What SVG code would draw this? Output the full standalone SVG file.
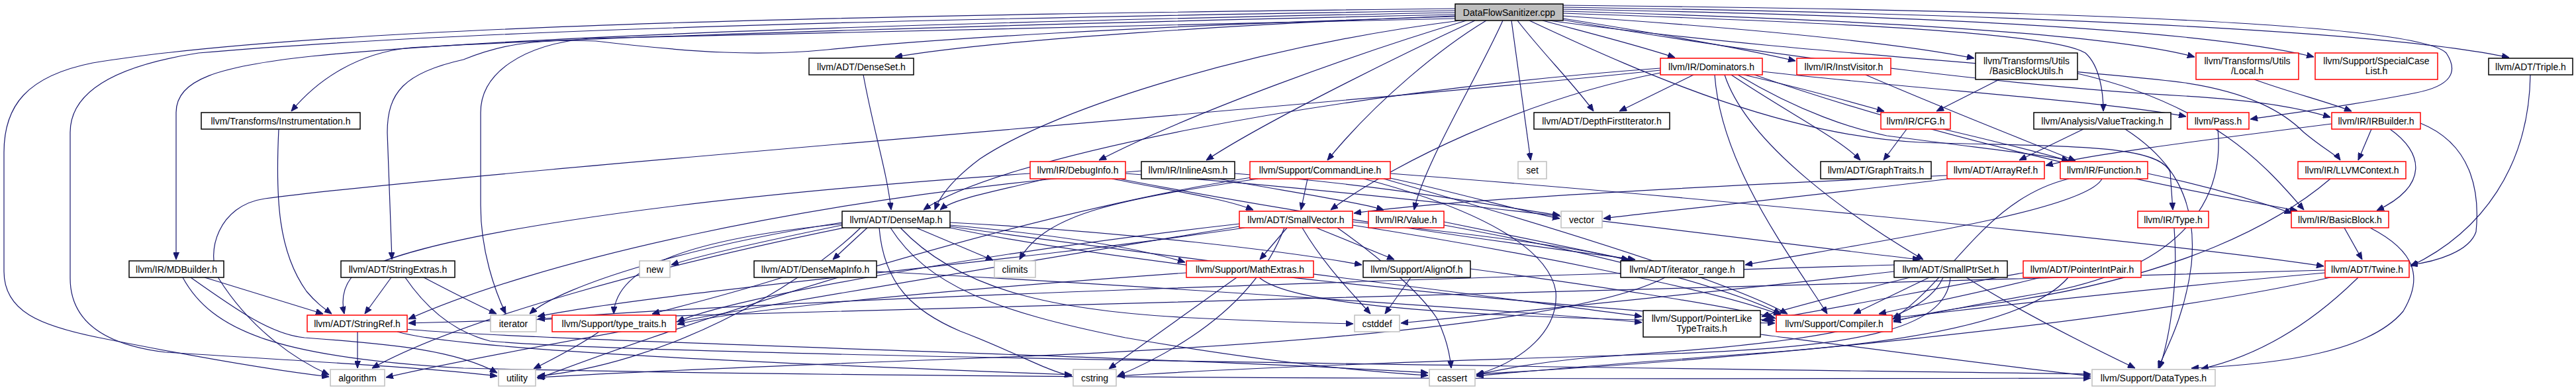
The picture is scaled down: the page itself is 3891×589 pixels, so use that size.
<svg xmlns="http://www.w3.org/2000/svg" width="3891" height="589" viewBox="0 0 3891 589">
<style>
.e path{fill:none;stroke:#191970;stroke-width:1.2;marker-end:url(#a)}
.node rect{fill:#fff;stroke:#000;stroke-width:1.5}
.red rect{stroke:#f00}
.gray rect{stroke:#bfbfbf}
.root rect{fill:#bfbfbf}
text{font-family:"Liberation Sans",Arial,sans-serif;font-size:14px;text-anchor:middle;fill:#000}
</style>
<defs>
<marker id="a" markerWidth="11" markerHeight="9" refX="11" refY="4.5" orient="auto" markerUnits="userSpaceOnUse"><path d="M0,0 L11,4.5 L0,9 z" fill="#191970" stroke="#191970"/></marker>
</defs>
<rect width="3891" height="589" fill="#fff"/>
<g id="edges" class="e">
<path d="M2198,13 C1400,22 500,35 140,95 C40,115 6,160 6,230 L6,410 C6,470 60,492 150,510 C300,540 420,560 497,569"/>
<path d="M2198,16 C1400,28 700,45 300,80 C170,100 106,140 106,200 L106,420 C106,480 150,520 250,532 C450,545 650,555 751,568"/>
<path d="M2198,19 C1500,32 800,52 470,85 C330,100 266,120 266,170 L266,392"/>
<path d="M2198,22 C1600,35 900,55 620,72 C540,80 480,120 440,168"/>
<path d="M2198,25 C1700,40 1400,60 1250,75 C1150,85 1050,80 900,62 C800,58 750,70 700,90 C610,110 585,140 585,200 L592,392"/>
<path d="M2198,28 C1700,40 1100,50 890,58 C790,67 726,110 726,170 L726,310 C726,380 748,440 764,474"/>
<path d="M2198,24 C1900,35 1500,60 1352,86"/>
<path d="M2205,31 C1900,70 1600,160 1480,240 C1440,270 1420,295 1412,317"/>
<path d="M2215,31 C2050,80 1800,170 1660,242"/>
<path d="M2228,31 C2100,90 1900,190 1822,242"/>
<path d="M2245,31 C2180,70 2080,150 2005,242"/>
<path d="M2270,31 C2230,120 2150,250 2136,317"/>
<path d="M2283,31 L2312,242"/>
<path d="M2292,31 C2330,80 2380,130 2407,168"/>
<path d="M2330,31 C2420,55 2480,70 2530,87"/>
<path d="M2361,28 C2500,50 2640,75 2712,92"/>
<path d="M2361,24 C2600,40 2850,62 2982,88"/>
<path d="M2361,20 C2800,35 3100,50 3150,80 C3172,100 3177,140 3177,168"/>
<path d="M2361,17 C2900,32 3200,55 3315,86"/>
<path d="M2361,14 C3000,25 3350,50 3495,86"/>
<path d="M2361,11 C3000,20 3600,45 3790,87"/>
<path d="M2361,30 C2700,90 3100,135 3300,145 C3420,152 3480,165 3520,177"/>
<path d="M2361,8 C3100,15 3650,35 3695,80 C3715,110 3700,130 3650,140 C3550,160 3450,172 3399,180"/>
<path d="M2340,31 C2700,80 3100,100 3300,125 C3400,140 3450,170 3480,200 C3510,225 3530,235 3535,242"/>
<path d="M2310,31 C2500,120 2700,205 2900,215 C3100,222 3260,215 3278,260 L3282,317"/>
<path d="M421,195 C416,300 420,380 463,440 C478,458 490,466 501,474"/>
<path d="M309,419 L488,474"/>
<path d="M276,419 C320,500 420,540 700,556 C1500,575 2800,572 3158,571"/>
<path d="M288,419 C360,470 410,505 460,510 C600,520 690,530 751,563"/>
<path d="M591,419 L551,474"/>
<path d="M640,419 C680,440 720,460 750,474"/>
<path d="M612,419 C640,460 680,500 740,515 C1000,540 2700,558 3158,565"/>
<path d="M540,501 L540,556"/>
<path d="M600,501 C700,530 1200,550 1619,566"/>
<path d="M612,497 C800,515 1800,540 2157,563"/>
<path d="M905,501 C870,525 830,545 806,557"/>
<path d="M1182,419 C1100,445 1030,462 985,474"/>
<path d="M1324,410 C1700,430 2300,470 2480,487"/>
<path d="M1310,344 L1258,392"/>
<path d="M1272,340 C1150,365 1060,385 1014,400"/>
<path d="M1272,336 C1050,370 850,430 800,474"/>
<path d="M1275,344 C1000,400 700,480 562,556"/>
<path d="M1300,344 C1200,440 1000,550 812,568"/>
<path d="M1272,338 C1050,360 930,400 927,474"/>
<path d="M1384,344 L1500,393"/>
<path d="M1435,340 C1600,355 1720,375 1790,396"/>
<path d="M1328,344 C1335,430 1380,470 1450,500 C1530,530 1580,560 1619,568"/>
<path d="M1345,344 C1400,430 1500,470 1700,510 C1900,545 2050,560 2157,567"/>
<path d="M1360,344 C1450,440 1600,470 1800,480 C1900,485 2000,488 2044,489"/>
<path d="M1435,336 C1700,350 1950,380 2057,400"/>
<path d="M1435,344 C1700,400 2300,460 2681,484"/>
<path d="M1435,342 C1700,380 2200,440 2480,478"/>
<path d="M1304,113 C1320,200 1340,260 1346,317"/>
<path d="M1975,270 L1965,317"/>
<path d="M2100,262 C2600,300 3300,370 3510,402"/>
<path d="M2090,270 C2300,330 2600,420 2700,474"/>
<path d="M2060,270 C2250,320 2340,380 2350,440 C2355,500 2300,545 2230,566"/>
<path d="M1900,270 C1700,300 1580,320 1540,392"/>
<path d="M1890,268 C1500,330 1000,500 812,572"/>
<path d="M2095,268 C2200,290 2300,320 2356,330"/>
<path d="M1580,270 C1500,290 1440,300 1420,317"/>
<path d="M1680,270 C1780,290 1850,300 1893,317"/>
<path d="M1700,262 C2200,300 2700,370 2900,392"/>
<path d="M1556,262 C1000,300 600,360 530,420 C515,440 517,460 520,474"/>
<path d="M1690,270 C2000,330 2300,370 2470,392"/>
<path d="M1724,258 C1200,300 800,400 617,482"/>
<path d="M1840,270 C1950,290 2050,305 2090,317"/>
<path d="M1865,262 C2100,280 2250,310 2356,325"/>
<path d="M2508,103 C2000,140 1500,240 1395,317"/>
<path d="M2558,113 L2446,168"/>
<path d="M2615,113 C2700,170 2780,210 2810,242"/>
<path d="M2634,113 C2730,135 2800,155 2846,168"/>
<path d="M2625,113 C2720,170 2800,195 2850,205 C3000,225 3100,235 3125,243"/>
<path d="M2662,108 C2900,135 3200,155 3302,176"/>
<path d="M2605,113 C2640,220 2800,330 2905,392"/>
<path d="M2508,110 C2300,150 2100,250 2010,317"/>
<path d="M2590,113 C2600,250 2700,380 2760,474"/>
<path d="M2650,113 C2900,200 3200,270 3470,318"/>
<path d="M2508,106 C2000,160 700,260 400,300 C330,310 310,380 330,420 C380,500 450,545 497,566"/>
<path d="M2880,195 L2845,242"/>
<path d="M2935,195 C3020,215 3080,230 3125,243"/>
<path d="M3020,120 L2925,168"/>
<path d="M3138,111 C3350,160 3430,260 3480,317"/>
<path d="M2818,113 C2950,170 3080,220 3135,243"/>
<path d="M3147,195 L3050,242"/>
<path d="M3210,195 C3280,240 3320,300 3310,400 C3300,480 3270,530 3260,556"/>
<path d="M3405,120 C3460,140 3520,155 3552,168"/>
<path d="M3822,113 C3820,250 3750,350 3641,402"/>
<path d="M3582,195 L3562,242"/>
<path d="M3610,195 C3660,230 3670,280 3590,318"/>
<path d="M3656,186 C3740,220 3745,300 3740,350 C3730,380 3680,395 3641,400"/>
<path d="M3522,187 C3300,215 3150,235 3090,250"/>
<path d="M3244,262 C3330,280 3400,300 3462,322"/>
<path d="M3125,270 C3000,300 2950,420 2859,482"/>
<path d="M3175,270 C3150,320 2800,370 2636,400"/>
<path d="M2941,265 C2600,280 2200,300 2045,322"/>
<path d="M2945,270 C2700,300 2500,320 2422,330"/>
<path d="M3350,195 C3360,300 3300,400 3100,440 C2950,465 2900,478 2860,484"/>
<path d="M3520,270 C3450,330 3300,420 3000,460 C2920,470 2890,478 2860,486"/>
<path d="M3541,344 L3568,392"/>
<path d="M3580,344 C3650,380 3660,420 3630,470 C3580,530 3450,550 3310,556"/>
<path d="M3284,344 C3290,420 3280,500 3262,556"/>
<path d="M3562,419 C3480,500 3400,540 3325,557"/>
<path d="M3512,408 C2500,440 1000,470 617,488"/>
<path d="M3520,419 C3200,490 2600,545 2230,565"/>
<path d="M3512,412 C3200,440 2950,470 2860,480"/>
<path d="M2181,335 C2300,360 2400,380 2460,392"/>
<path d="M2181,340 C2400,380 2600,430 2690,474"/>
<path d="M1988,344 L2106,392"/>
<path d="M1967,344 C2000,400 2040,440 2070,474"/>
<path d="M1944,344 L1903,392"/>
<path d="M2043,335 C2200,350 2400,375 2460,394"/>
<path d="M2043,340 C2300,380 2600,440 2690,476"/>
<path d="M1872,338 C1500,380 1100,450 1023,486"/>
<path d="M1880,344 C1500,400 1000,440 812,478"/>
<path d="M1872,342 C1400,420 800,520 583,570"/>
<path d="M2020,344 C2100,400 2150,450 2170,480 C2185,510 2190,535 2192,556"/>
<path d="M1940,344 C1900,450 1800,520 1688,568"/>
<path d="M1868,419 L1675,557"/>
<path d="M1902,419 C1960,470 2300,480 2681,488"/>
<path d="M1792,412 C1400,440 1100,470 1023,490"/>
<path d="M2131,419 L2092,474"/>
<path d="M2221,406 C2400,430 2600,460 2681,480"/>
<path d="M2515,419 C2400,480 2000,520 1500,540 C1100,555 900,565 811,570"/>
<path d="M2885,419 C2800,440 2720,460 2661,478"/>
<path d="M2914,419 L2800,474"/>
<path d="M2935,419 C2900,500 2700,520 2400,540 C2300,550 2260,560 2230,566"/>
<path d="M2946,419 C2940,500 2800,525 2500,535 C2000,550 1800,560 1688,568"/>
<path d="M2861,410 C2600,440 2300,470 2116,488"/>
<path d="M2861,400 C2200,420 1200,450 812,482"/>
<path d="M2970,419 C3050,470 3150,520 3225,556"/>
<path d="M3082,419 C3000,440 2900,460 2838,474"/>
<path d="M3056,412 C2900,440 2750,470 2661,484"/>
<path d="M3124,419 C3080,470 2950,510 2700,530 C2500,545 2300,560 2230,568"/>
<path d="M2659,505 C2850,530 3000,550 3158,568"/>
</g>
<g id="n-root" class="node root"><rect x="2198" y="6" width="163" height="25"/><text x="2279.5" y="23.5">DataFlowSanitizer.cpp</text></g>
<g id="n-denseset" class="node"><rect x="1222" y="88" width="158" height="25"/><text x="1301" y="105.5">llvm/ADT/DenseSet.h</text></g>
<g id="n-dominators" class="node red"><rect x="2508" y="88" width="154" height="25"/><text x="2585" y="105.5">llvm/IR/Dominators.h</text></g>
<g id="n-instvisitor" class="node red"><rect x="2714" y="88" width="142" height="25"/><text x="2785" y="105.5">llvm/IR/InstVisitor.h</text></g>
<g id="n-bbutils" class="node"><rect x="2984" y="80" width="154" height="40"/><text x="3061" y="97">llvm/Transforms/Utils</text><text x="3061" y="112">/BasicBlockUtils.h</text></g>
<g id="n-local" class="node red"><rect x="3317" y="80" width="155" height="40"/><text x="3394.5" y="97">llvm/Transforms/Utils</text><text x="3394.5" y="112">/Local.h</text></g>
<g id="n-scl" class="node red"><rect x="3497" y="80" width="185" height="40"/><text x="3589.5" y="97">llvm/Support/SpecialCase</text><text x="3589.5" y="112">List.h</text></g>
<g id="n-triple" class="node"><rect x="3759" y="88" width="127" height="25"/><text x="3822.5" y="105.5">llvm/ADT/Triple.h</text></g>
<g id="n-instr" class="node"><rect x="304" y="170" width="240" height="25"/><text x="424" y="187.5">llvm/Transforms/Instrumentation.h</text></g>
<g id="n-dfi" class="node"><rect x="2317" y="170" width="205" height="25"/><text x="2419.5" y="187.5">llvm/ADT/DepthFirstIterator.h</text></g>
<g id="n-cfg" class="node red"><rect x="2841" y="170" width="105" height="25"/><text x="2893.5" y="187.5">llvm/IR/CFG.h</text></g>
<g id="n-vt" class="node"><rect x="3072" y="170" width="207" height="25"/><text x="3175.5" y="187.5">llvm/Analysis/ValueTracking.h</text></g>
<g id="n-pass" class="node red"><rect x="3304" y="170" width="93" height="25"/><text x="3350.5" y="187.5">llvm/Pass.h</text></g>
<g id="n-irbuilder" class="node red"><rect x="3522" y="170" width="134" height="25"/><text x="3589" y="187.5">llvm/IR/IRBuilder.h</text></g>
<g id="n-debuginfo" class="node red"><rect x="1556" y="244" width="144" height="26"/><text x="1628" y="262">llvm/IR/DebugInfo.h</text></g>
<g id="n-inlineasm" class="node"><rect x="1724" y="244" width="141" height="26"/><text x="1794.5" y="262">llvm/IR/InlineAsm.h</text></g>
<g id="n-commandline" class="node red"><rect x="1888" y="244" width="212" height="26"/><text x="1994" y="262">llvm/Support/CommandLine.h</text></g>
<g id="n-set" class="node gray"><rect x="2293" y="244" width="43" height="26"/><text x="2314.5" y="262">set</text></g>
<g id="n-graphtraits" class="node"><rect x="2750" y="244" width="167" height="26"/><text x="2833.5" y="262">llvm/ADT/GraphTraits.h</text></g>
<g id="n-arrayref" class="node red"><rect x="2941" y="244" width="147" height="26"/><text x="3014.5" y="262">llvm/ADT/ArrayRef.h</text></g>
<g id="n-function" class="node red"><rect x="3112" y="244" width="132" height="26"/><text x="3178" y="262">llvm/IR/Function.h</text></g>
<g id="n-llvmcontext" class="node red"><rect x="3471" y="244" width="163" height="26"/><text x="3552.5" y="262">llvm/IR/LLVMContext.h</text></g>
<g id="n-densemap" class="node"><rect x="1272" y="319" width="163" height="25"/><text x="1353.5" y="336.5">llvm/ADT/DenseMap.h</text></g>
<g id="n-smallvector" class="node red"><rect x="1872" y="319" width="171" height="25"/><text x="1957.5" y="336.5">llvm/ADT/SmallVector.h</text></g>
<g id="n-value" class="node red"><rect x="2067" y="319" width="114" height="25"/><text x="2124" y="336.5">llvm/IR/Value.h</text></g>
<g id="n-vector" class="node gray"><rect x="2358" y="319" width="62" height="25"/><text x="2389" y="336.5">vector</text></g>
<g id="n-type" class="node red"><rect x="3229" y="319" width="107" height="25"/><text x="3282.5" y="336.5">llvm/IR/Type.h</text></g>
<g id="n-basicblock" class="node red"><rect x="3461" y="319" width="147" height="25"/><text x="3534.5" y="336.5">llvm/IR/BasicBlock.h</text></g>
<g id="n-mdbuilder" class="node"><rect x="195" y="394" width="143" height="25"/><text x="266.5" y="411.5">llvm/IR/MDBuilder.h</text></g>
<g id="n-stringextras" class="node"><rect x="515" y="394" width="172" height="25"/><text x="601" y="411.5">llvm/ADT/StringExtras.h</text></g>
<g id="n-new" class="node gray"><rect x="966" y="394" width="46" height="25"/><text x="989" y="411.5">new</text></g>
<g id="n-densemapinfo" class="node"><rect x="1139" y="394" width="185" height="25"/><text x="1231.5" y="411.5">llvm/ADT/DenseMapInfo.h</text></g>
<g id="n-climits" class="node gray"><rect x="1502" y="394" width="62" height="25"/><text x="1533" y="411.5">climits</text></g>
<g id="n-mathextras" class="node red"><rect x="1792" y="394" width="192" height="25"/><text x="1888" y="411.5">llvm/Support/MathExtras.h</text></g>
<g id="n-alignof" class="node"><rect x="2059" y="394" width="162" height="25"/><text x="2140" y="411.5">llvm/Support/AlignOf.h</text></g>
<g id="n-iteratorrange" class="node"><rect x="2448" y="394" width="186" height="25"/><text x="2541" y="411.5">llvm/ADT/iterator_range.h</text></g>
<g id="n-smallptrset" class="node"><rect x="2861" y="394" width="171" height="25"/><text x="2946.5" y="411.5">llvm/ADT/SmallPtrSet.h</text></g>
<g id="n-pointerintpair" class="node red"><rect x="3056" y="394" width="178" height="25"/><text x="3145" y="411.5">llvm/ADT/PointerIntPair.h</text></g>
<g id="n-twine" class="node red"><rect x="3512" y="394" width="127" height="25"/><text x="3575.5" y="411.5">llvm/ADT/Twine.h</text></g>
<g id="n-stringref" class="node red"><rect x="464" y="476" width="151" height="25"/><text x="539.5" y="493.5">llvm/ADT/StringRef.h</text></g>
<g id="n-iterator" class="node gray"><rect x="741" y="476" width="69" height="25"/><text x="775.5" y="493.5">iterator</text></g>
<g id="n-typetraits" class="node red"><rect x="834" y="476" width="187" height="25"/><text x="927.5" y="493.5">llvm/Support/type_traits.h</text></g>
<g id="n-cstddef" class="node gray"><rect x="2046" y="476" width="68" height="25"/><text x="2080" y="493.5">cstddef</text></g>
<g id="n-plt" class="node"><rect x="2482" y="469" width="177" height="40"/><text x="2570.5" y="486">llvm/Support/PointerLike</text><text x="2570.5" y="501">TypeTraits.h</text></g>
<g id="n-compiler" class="node red"><rect x="2683" y="476" width="175" height="25"/><text x="2770.5" y="493.5">llvm/Support/Compiler.h</text></g>
<g id="n-algorithm" class="node gray"><rect x="499" y="558" width="82" height="25"/><text x="540" y="575.5">algorithm</text></g>
<g id="n-utility" class="node gray"><rect x="753" y="558" width="56" height="25"/><text x="781" y="575.5">utility</text></g>
<g id="n-cstring" class="node gray"><rect x="1621" y="558" width="65" height="25"/><text x="1653.5" y="575.5">cstring</text></g>
<g id="n-cassert" class="node gray"><rect x="2159" y="558" width="69" height="25"/><text x="2193.5" y="575.5">cassert</text></g>
<g id="n-datatypes" class="node gray"><rect x="3160" y="558" width="186" height="25"/><text x="3253" y="575.5">llvm/Support/DataTypes.h</text></g>
</svg>
